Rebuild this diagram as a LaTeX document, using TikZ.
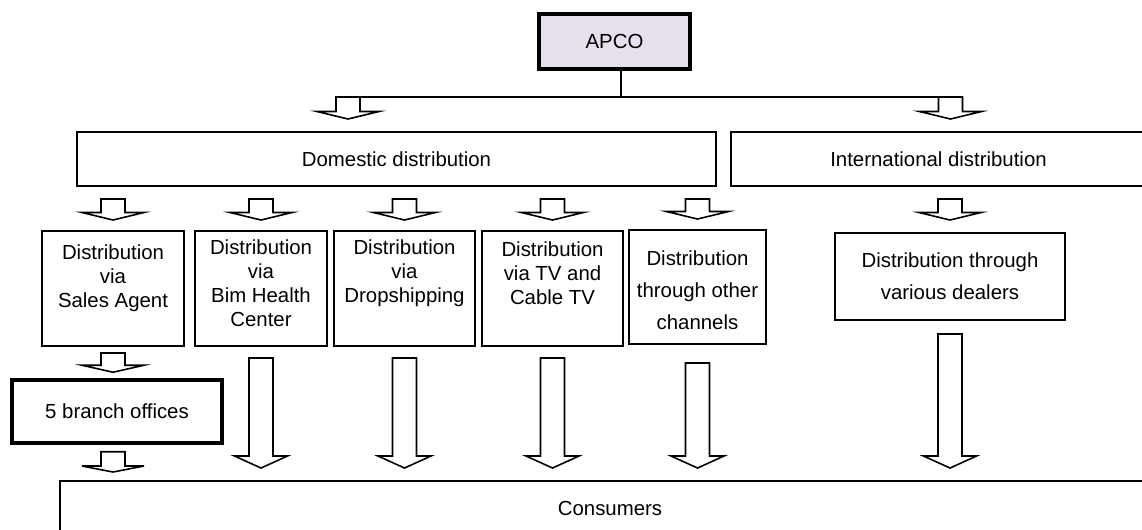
\documentclass[tikz,border=0pt]{standalone}
\usepackage{fontspec}
\setmainfont{Liberation Sans}
\usetikzlibrary{positioning, calc}
\definecolor{apcofill}{RGB}{229,224,236}
\tikzset{
    basebox/.style={
        draw=black,
        align=center,
        inner sep=0pt,
        font={\fontsize{11.6pt}{13.7pt}\selectfont}
    },
    apcobox/.style={basebox, fill=apcofill, line width=2pt, minimum width=3.02cm, minimum height=1.10cm},
    mainbox/.style={basebox, line width=1.1pt, minimum height=1.08cm},
    subbox/.style={basebox, line width=1.1pt, minimum height=2.30cm},
    branchbox/.style={basebox, line width=2pt, minimum width=4.20cm, minimum height=1.26cm},
    boxtext/.style={align=center, inner sep=0pt, font={\fontsize{11.6pt}{13.7pt}\selectfont}},
    widetext/.style={align=center, inner sep=0pt, font={\fontsize{11.6pt}{18.2pt}\selectfont}},
    stemline/.style={draw=black, line width=0.9pt},
    hollowarrow/.style={draw=black, line width=0.9pt, fill=white, line join=miter}
}
% flecha hueca: inicio, punta, media cabeza, alto cabeza
\newcommand{\blockarrow}[4]{%
    \draw[hollowarrow] let \p1=(#1), \p2=(#2) in
        (\x1-0.24cm,\y1) -- (\x1-0.24cm,\y2+#4) -- (\x1-#3,\y2+#4) -- (\x1,\y2)
        -- (\x1+#3,\y2+#4) -- (\x1+0.24cm,\y2+#4) -- (\x1+0.24cm,\y1) -- cycle;}

\begin{document}
\begin{tikzpicture}
    \useasboundingbox (0,0) rectangle (22.84,10.6);
    \clip (0,0) rectangle (22.84,10.6);

    % 1. APCO
    \node[apcobox] (apco) at (12.29,9.77) {APCO};

    % 2. Domestic / International
    \node[mainbox, minimum width=12.78cm] (domestic) at (7.93,7.42) {Domestic distribution};
    \node[mainbox, minimum width=8.30cm] (international) at (18.77,7.42) {International distribution};

    \coordinate (apcoStem) at ($(apco.south)+(0.13,0)$);
    \coordinate (splitL) at (6.96,8.66);
    \coordinate (splitR) at (19.01,8.66);

    % 3. Canales
    \node[subbox, minimum width=2.84cm] (agent) at (2.26,4.83) {};
    \node[subbox, minimum width=2.64cm] (bim) at (5.22,4.83) {};
    \node[subbox, minimum width=2.82cm] (drop) at (8.09,4.83) {};
    \node[subbox, minimum width=2.82cm] (tv) at (11.05,4.83) {};
    \node[subbox, minimum width=2.74cm, minimum height=2.28cm] (other) at (13.95,4.86) {};
    \node[subbox, minimum width=4.60cm, minimum height=1.74cm] (dealers) at (19.00,5.07) {};

    \node[boxtext] (agent_txt) at ([yshift=0.21cm]agent.center) {Distribution\\via\\Sales Agent};
    \node[boxtext] (bim_txt) at ([yshift=0.11cm]bim.center) {Distribution\\via\\Bim Health\\Center};
    \node[boxtext] (drop_txt) at ([yshift=0.30cm]drop.center) {Distribution\\via\\Dropshipping};
    \node[boxtext] (tv_txt) at ([yshift=0.30cm]tv.center) {Distribution\\via TV and\\Cable TV};
    \node[widetext] (other_txt) at ([yshift=-0.06cm]other.center) {Distribution\\through other\\channels};
    \node[widetext] (dealers_txt) at (dealers.center) {Distribution through\\various dealers};

    % 4. Sucursales y consumidores
    \node[branchbox] (branch) at (2.34,2.37) {5 branch offices};
    \node[mainbox, minimum width=22.0cm] (consumers) at (12.2,0.44) {Consumers};

    % Conexiones
    \draw[stemline] (apcoStem) -- (apcoStem |- splitL);
    \draw[stemline] ($(splitL)+(-0.24,0)$) -- ($(splitR)+(0.24,0)$);
    \blockarrow{splitL}{$(splitL |- domestic.north)+(0,0.24)$}{0.62cm}{0.15cm}
    \blockarrow{splitR}{$(splitR |- international.north)+(0,0.24)$}{0.62cm}{0.15cm}

    \foreach \ch in {agent, bim, drop, tv, other}{
        \blockarrow{$(domestic.south -| \ch)+(0,-0.24)$}{$(\ch.north)+(0,0.2)$}{0.62cm}{0.15cm}
    }
    \blockarrow{$(international.south -| dealers)+(0,-0.24)$}{$(dealers.north)+(0,0.24)$}{0.62cm}{0.15cm}

    \foreach \ch/\gap in {bim/0.22, drop/0.22, tv/0.22, other/0.36, dealers/0.26}{
        \blockarrow{$(\ch.south)+(0,-\gap)$}{$(consumers.north -| \ch)+(0,0.24)$}{0.53cm}{0.24cm}
    }

    \blockarrow{$(agent.south)+(0,-0.12)$}{$(branch.north -| agent)+(0,0.12)$}{0.62cm}{0.14cm}
    \blockarrow{$(branch.south -| agent)+(0,-0.14)$}{$(consumers.north -| agent)+(0,0.16)$}{0.62cm}{0.12cm}

\end{tikzpicture}
\end{document}
